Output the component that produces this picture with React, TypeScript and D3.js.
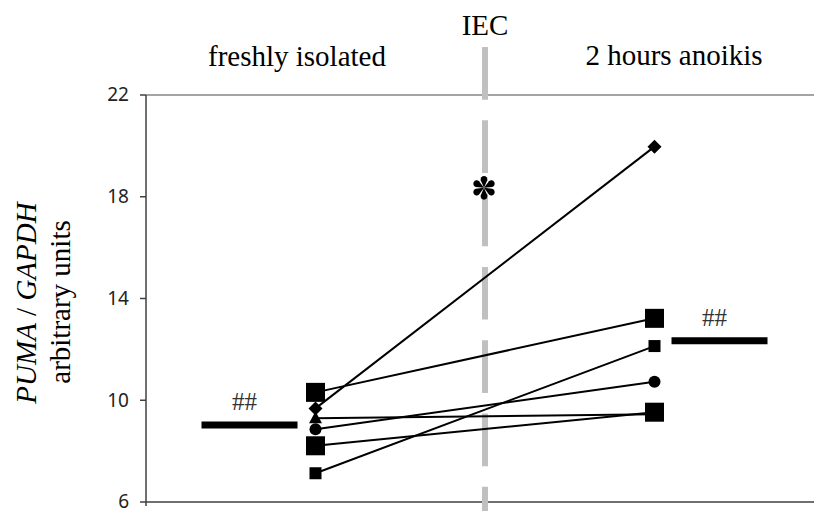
import React from "react";
import * as d3 from "d3";

const categories = ["freshly isolated", "2 hours anoikis"];
const groupLabel = "IEC";
const yTicks = [6, 10, 14, 18, 22];
// each series: [freshly isolated, 2 hours anoikis]
const seriesA = [10.31, 13.22];
const seriesB = [9.68, 19.97];
const seriesC = [9.29, 9.45];
const seriesD = [8.86, 10.73];
const seriesE = [8.21, 9.53];
const seriesF = [7.13, 12.13];
const seriesList = [seriesC, seriesA, seriesB, seriesD, seriesE, seriesF];
const seriesMarkers = ["triangle", "bigSquare", "diamond", "circle", "bigSquare", "smallSquare"];
const meanValues = [9.03, 12.34];
const meanLabels = ["##", "##"];
const significanceValue = 18.35;

const W = 814;
const H = 511;
const serif = "Liberation Serif, Times New Roman, DejaVu Serif, serif";

function marker(kind: string, x: number, y: number, key: string) {
  if (kind === "bigSquare") return <rect key={key} x={x - 9.5} y={y - 9.5} width={19} height={19} fill="#000" />;
  if (kind === "smallSquare") return <rect key={key} x={x - 6} y={y - 6} width={12} height={12} fill="#000" />;
  if (kind === "circle") return <circle key={key} cx={x} cy={y} r={6} fill="#000" />;
  if (kind === "diamond") return <path key={key} d={`M${x},${y - 7}L${x + 7},${y}L${x},${y + 7}L${x - 7},${y}Z`} fill="#000" />;
  return <path key={key} d={`M${x},${y - 7}L${x + 6.5},${y + 5}L${x - 6.5},${y + 5}Z`} fill="#000" />;
}

export default function App() {
  const x = d3.scaleBand<string>().domain(categories).range([146, 824]);
  const y = d3.scaleLinear().domain([6, 22]).range([502, 95]);
  const cx = (c: string) => (x(c) as number) + x.bandwidth() / 2;
  const mid = 146 + x.bandwidth();
  const line = d3.line<[number, number]>().x((d) => d[0]).y((d) => d[1]);
  const petal = "M0,0L-3.3,-7.6A3.4,3.4 0 1,1 3.3,-7.6Z";

  return (
    <svg width={W} height={H} style={{ position: "absolute", left: 0, top: 0, background: "#fff" }}>
      {/* top gridline */}
      <line x1={146} x2={W} y1={y(22)} y2={y(22)} stroke="#868686" strokeWidth={1.5} />
      {/* axes */}
      <line x1={146} x2={W} y1={y(6)} y2={y(6)} stroke="#404040" strokeWidth={1.5} />
      <line x1={146} x2={146} y1={y(22)} y2={y(6) + 4} stroke="#404040" strokeWidth={1.5} />
      <line x1={mid} x2={mid} y1={y(6)} y2={y(6) + 5} stroke="#404040" strokeWidth={1.5} />
      {yTicks.map((t) => (
        <g key={t}>
          <line x1={140} x2={146} y1={y(t)} y2={y(t)} stroke="#404040" strokeWidth={1.5} />
          <text x={129} y={y(t)} dy="0.33em" textAnchor="end" fontFamily="Noto Sans, sans-serif" fontSize={19} fill="#222">
            {t}
          </text>
        </g>
      ))}
      {/* dashed separator */}
      <line x1={mid} x2={mid} y1={47} y2={H} stroke="#c0c0c0" strokeWidth={6} strokeDasharray="52.7 20.6" />
      <g transform={`translate(${mid - 1},${y(significanceValue)})`} fill="#000">
        {[0, 60, 120, 180, 240, 300].map((a) => (
          <path key={a} d={petal} transform={`rotate(${a})`} />
        ))}
      </g>
      {/* header labels */}
      <text x={mid} y={35} textAnchor="middle" fontFamily={serif} fontSize={29} fill="#000">{groupLabel}</text>
      <text x={297} y={66} textAnchor="middle" fontFamily={serif} fontSize={29} fill="#000">{categories[0]}</text>
      <text x={674} y={65} textAnchor="middle" fontFamily={serif} fontSize={29} fill="#000">{categories[1]}</text>
      {/* y label */}
      <text transform="translate(36,303) rotate(-90)" textAnchor="middle" fontFamily={serif} fontSize={29} fill="#000">
        <tspan fontStyle="italic">PUMA</tspan>
        <tspan> / </tspan>
        <tspan fontStyle="italic">GAPDH</tspan>
      </text>
      <text transform="translate(70,302) rotate(-90)" textAnchor="middle" fontFamily={serif} fontSize={29} fill="#000">
        arbitrary units
      </text>
      {/* series lines */}
      {seriesList.map((s, i) => (
        <path
          key={"l" + i}
          d={line(categories.map((c, j) => [cx(c), y(s[j])]) as [number, number][]) as string}
          fill="none"
          stroke="#000"
          strokeWidth={2}
        />
      ))}
      {seriesList.map((s, i) => categories.map((c, j) => marker(seriesMarkers[i], cx(c), y(s[j]), `m${i}-${j}`)))}
      {/* means */}
      {categories.map((c, j) => {
        const x0 = j === 0 ? cx(c) - 114 : cx(c) + 17;
        return (
          <g key={"mean" + j}>
            <line x1={x0} x2={x0 + 96} y1={y(meanValues[j])} y2={y(meanValues[j])} stroke="#000" strokeWidth={7} />
            <text x={x0 + 43} y={y(meanValues[j]) - 15} textAnchor="middle" fontFamily={serif} fontSize={25} fill="#333">
              {meanLabels[j]}
            </text>
          </g>
        );
      })}
    </svg>
  );
}
